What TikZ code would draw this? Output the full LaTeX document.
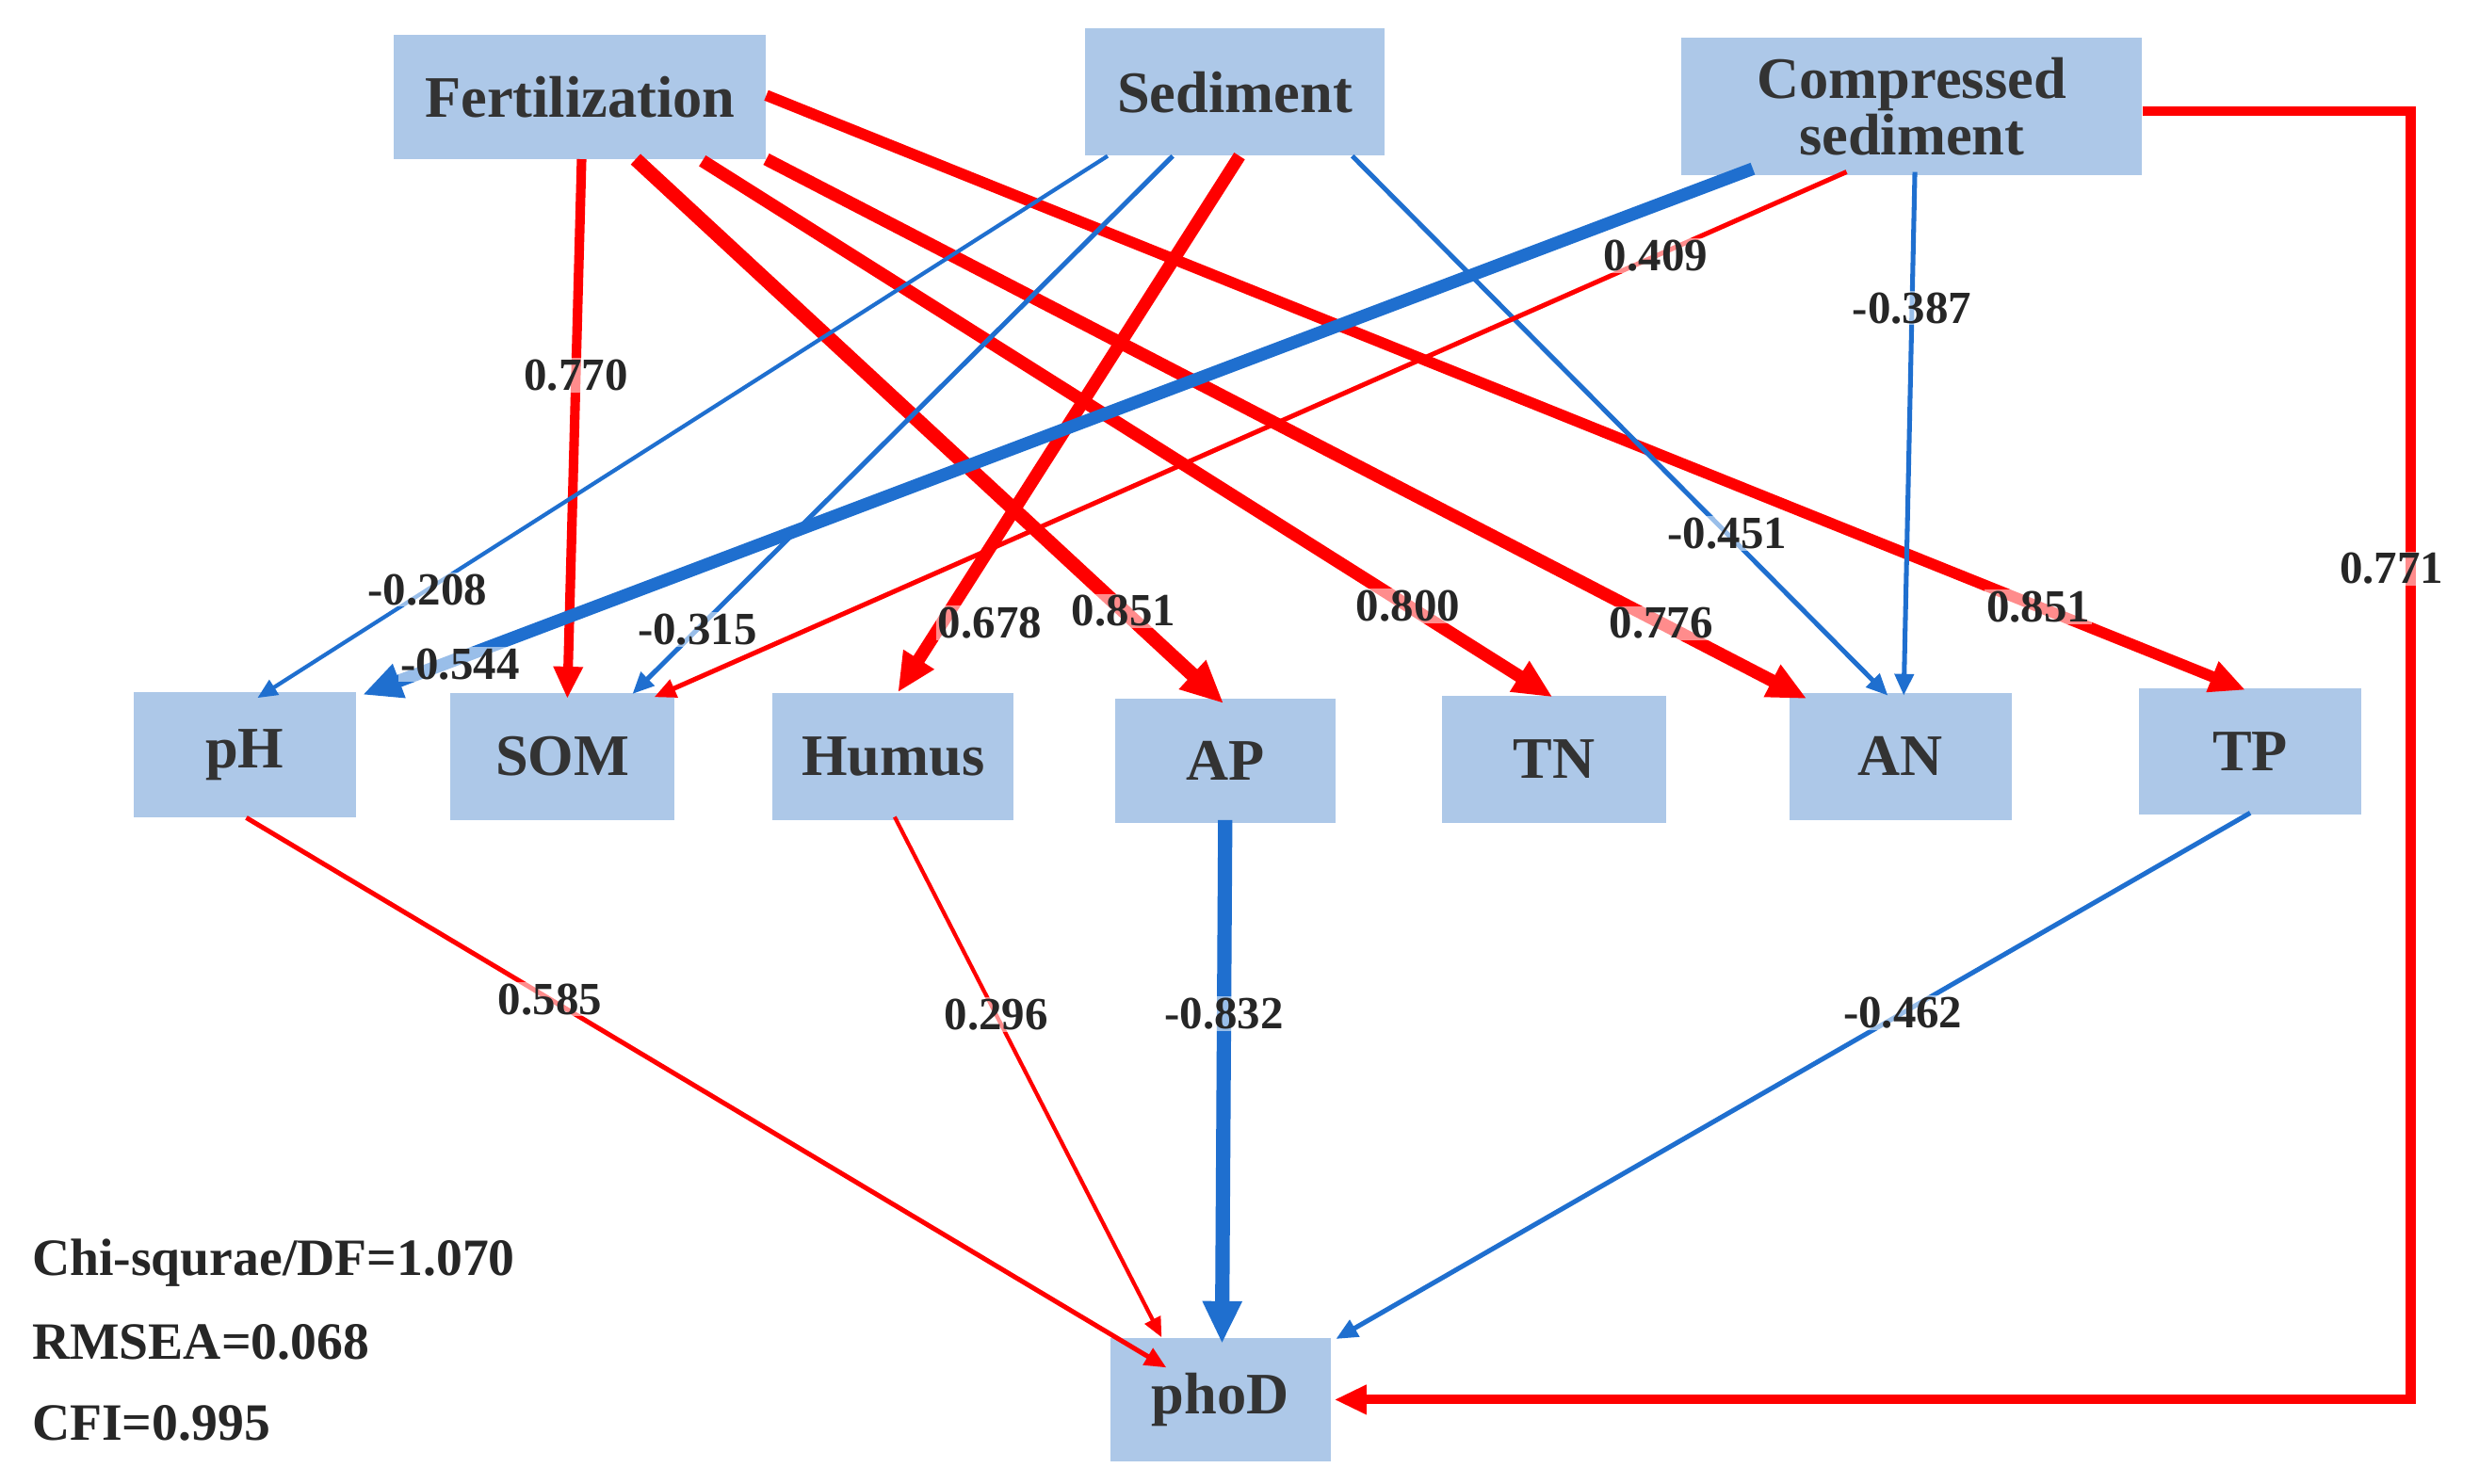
\documentclass[tikz,border=0pt]{standalone}
\usepackage{fontspec}
\setmainfont{Liberation Serif}
\usetikzlibrary{arrows.meta}
\definecolor{boxc}{HTML}{ADC8E8}
\definecolor{bl}{HTML}{1F6FCF}
\definecolor{rd}{HTML}{FF0000}
\begin{document}
\begin{tikzpicture}[x=1pt,y=-1pt,
  box/.style={fill=boxc,inner sep=0pt,align=center,font=\fontsize{37}{36}\selectfont\bfseries,text=black!80},
  lab/.style={font=\fontsize{29}{29}\selectfont\bfseries,text=black!85,fill=white,fill opacity=0.55,text opacity=1,inner sep=1pt},
  r/.style={draw=rd,line width=#1,-{Triangle[length=7pt+2.2*#1,width=6pt+1.9*#1]}},
  b/.style={draw=bl,line width=#1,-{Triangle[length=7pt+2.2*#1,width=6pt+1.9*#1]}},
  stat/.style={font=\fontsize{33}{33}\selectfont\bfseries,text=black!85,anchor=west,inner sep=0pt}]
\useasboundingbox (0,0) rectangle (1560,934);
\node[box,minimum width=234,minimum height=78] (fert) at (365,61) {Fertilization};
\node[box,minimum width=189,minimum height=80] (sed) at (777,58) {Sediment};
\node[box,minimum width=290,minimum height=86] (comp) at (1203,67) {Compressed\\sediment};
\node[box,minimum width=140,minimum height=79] (ph) at (154,475) {pH};
\node[box,minimum width=141,minimum height=80] (som) at (354,476) {SOM};
\node[box,minimum width=152,minimum height=80] (hum) at (562,476) {Humus};
\node[box,minimum width=139,minimum height=78] (ap) at (771,479) {AP};
\node[box,minimum width=141,minimum height=80] (tn) at (978,478) {TN};
\node[box,minimum width=140,minimum height=80] (an) at (1196,476) {AN};
\node[box,minimum width=140,minimum height=79] (tp) at (1416,473) {TP};
\node[box,minimum width=139,minimum height=78] (phod) at (768,881) {phoD};
\coordinate (corner) at (1517,881);
% Fertilization
\draw[r=6pt] ([xshift=1]fert.south) -- ([xshift=3,yshift=-4]som.north) node[lab,pos=0.4]{0.770};
\draw[r=9pt] ([xshift=35]fert.south) -- ([xshift=-1,yshift=-3]ap.north) node[lab,pos=0.83]{0.851};
\draw[r=8pt] ([xshift=77,yshift=-1]fert.south) -- ([xshift=-1,yshift=-1]tn.north) node[lab,pos=0.83]{0.800};
\draw[r=8pt] (fert.south east) -- ([xshift=-59,yshift=-4]an.north) node[lab,pos=0.86]{0.776};
\draw[r=7pt] ([yshift=1]fert.east) -- ([xshift=-3,yshift=-1]tp.north) node[lab,pos=0.86]{0.851};
% Sediment
\draw[b=2.5pt] ([xshift=-80]sed.south) -- ([xshift=8,yshift=-4]ph.north) node[lab,pos=0.8]{-0.208};
\draw[b=3pt] ([xshift=-39]sed.south) -- ([xshift=44,yshift=-1]som.north) node[lab,pos=0.88]{-0.315};
\draw[r=8pt] ([xshift=3]sed.south) -- ([xshift=3]hum.north) node[lab,pos=0.87,xshift=30]{0.678};
\draw[b=3pt] ([xshift=74]sed.south) -- ([xshift=-8,yshift=-2]an.north) node[lab,pos=0.7]{-0.451};
% Compressed
\draw[b=8pt] ([xshift=-100,yshift=4]comp.south) -- ([xshift=4,yshift=-2]ph.north east) node[lab,pos=0.93,yshift=-4]{-0.544};
\draw[r=3pt] ([xshift=-41,yshift=2]comp.south) -- ([xshift=-13,yshift=-3]som.north east) node[lab,pos=0.16]{0.409};
\draw[b=3pt] ([xshift=2,yshift=2]comp.south) -- ([xshift=2,yshift=-2]an.north) node[lab,pos=0.26]{-0.387};
\draw[r=6pt] ([yshift=-3]comp.east) -| (corner) -- ([xshift=2]phod.east);
\node[lab] (l771) at (1505,358) {0.771};
% to phoD
\draw[r=3pt] ([xshift=1]ph.south) -- ([xshift=-34,yshift=-19]phod.north) node[lab,pos=0.33]{0.585};
\draw[r=2.5pt] ([xshift=1,yshift=2]hum.south) -- ([xshift=-37]phod.north) node[lab,pos=0.38]{0.296};
\draw[b=9pt] ([yshift=2]ap.south) -- ([xshift=1,yshift=-4]phod.north) node[lab,pos=0.37]{-0.832};
\draw[b=3pt] ([yshift=1]tp.south) -- ([xshift=3,yshift=-1]phod.north east) node[lab,pos=0.38]{-0.462};
\node[stat] (s1) at (20,795) {Chi-squrae/DF=1.070};
\node[stat] (s2) at (20,845) {RMSEA=0.068};
\node[stat] (s3) at (20,896) {CFI=0.995};
\end{tikzpicture}
\end{document}
